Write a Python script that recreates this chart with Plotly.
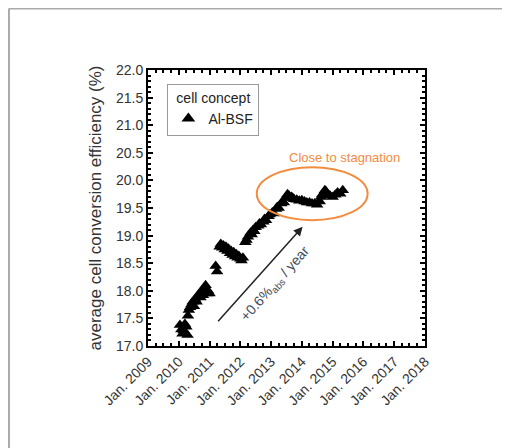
import plotly.graph_objects as go

# ---- data ----
dates = [
    "2010-01-15", "2010-02-01", "2010-02-15", "2010-03-01", "2010-03-15", "2010-04-01",
    "2010-04-15", "2010-04-20", "2010-05-01", "2010-05-15", "2010-06-01", "2010-06-15",
    "2010-07-01", "2010-07-15", "2010-08-01", "2010-08-15", "2010-09-01", "2010-09-15",
    "2010-10-01", "2010-10-15", "2010-11-01", "2010-11-15", "2010-12-01", "2010-12-15",
    "2011-01-01", "2011-03-15", "2011-04-01", "2011-05-01", "2011-05-15", "2011-06-01",
    "2011-06-15", "2011-07-01", "2011-07-15", "2011-08-01", "2011-08-15", "2011-09-01",
    "2011-09-15", "2011-10-01", "2011-10-15", "2011-11-01", "2011-11-15", "2011-12-01",
    "2011-12-15", "2012-01-01", "2012-01-15", "2012-02-01", "2012-03-01", "2012-03-15",
    "2012-04-01", "2012-05-01", "2012-05-15", "2012-06-01", "2012-06-15", "2012-07-01",
    "2012-08-01", "2012-08-15", "2012-09-01", "2012-10-01", "2012-10-15", "2012-11-01",
    "2012-12-01", "2012-12-15", "2013-01-15", "2013-02-01", "2013-03-01", "2013-03-15",
    "2013-04-01", "2013-05-01", "2013-05-15", "2013-06-01", "2013-07-01", "2013-07-15",
    "2013-08-01", "2013-09-01", "2013-09-15", "2013-10-01", "2013-11-01", "2013-12-01",
    "2014-01-01", "2014-02-01", "2014-03-01", "2014-04-01", "2014-05-01", "2014-06-01",
    "2014-07-01", "2014-08-01", "2014-08-15", "2014-09-01", "2014-10-01", "2014-10-15",
    "2014-11-01", "2014-12-01", "2015-01-01", "2015-02-01", "2015-03-01", "2015-04-01",
    "2015-05-01",
]
efficiency = [
    17.38, 17.30, 17.22, 17.28, 17.40, 17.35,
    17.20, 17.55, 17.65, 17.70, 17.75, 17.80,
    17.72, 17.85, 17.80, 17.90, 17.95, 17.88,
    18.00, 17.92, 18.02, 18.10, 17.95, 18.00,
    17.95, 18.45, 18.35, 18.80, 18.85, 18.78,
    18.82, 18.75, 18.80, 18.72, 18.76, 18.68,
    18.72, 18.65, 18.70, 18.62, 18.66, 18.60,
    18.63, 18.58, 18.55, 18.60, 18.88, 18.92,
    18.98, 19.05, 19.02, 19.10, 19.08, 19.15,
    19.18, 19.22, 19.20, 19.25, 19.30, 19.28,
    19.35, 19.38, 19.42, 19.40, 19.48, 19.52,
    19.50, 19.58, 19.62, 19.60, 19.68, 19.75,
    19.72, 19.70, 19.68, 19.66, 19.65, 19.63,
    19.64, 19.62, 19.60, 19.60, 19.58, 19.58,
    19.56, 19.62, 19.70, 19.75, 19.82, 19.80,
    19.75, 19.72, 19.70, 19.74, 19.78, 19.76,
    19.82,
]
series_name = "Al-BSF"
legend_title = "cell concept"
x_tick_vals = ["2009-01-01", "2010-01-01", "2011-01-01", "2012-01-01", "2013-01-01",
               "2014-01-01", "2015-01-01", "2016-01-01", "2017-01-01", "2018-01-01"]
x_tick_text = ["Jan. 2009", "Jan. 2010", "Jan. 2011", "Jan. 2012", "Jan. 2013",
               "Jan. 2014", "Jan. 2015", "Jan. 2016", "Jan. 2017", "Jan. 2018"]
y_title = "average cell conversion efficiency (%)"

FONT = "Arial, Liberation Sans, sans-serif"
ORANGE = "#F28C3E"

fig = go.Figure()
fig.add_trace(go.Scatter(
    x=dates, y=efficiency, mode="markers", name=series_name,
    marker=dict(symbol="triangle-up", size=11, color="black", line=dict(width=0)),
))

axis_common = dict(
    showgrid=False, zeroline=False, showline=True, linecolor="black", linewidth=2,
    mirror="allticks", ticks="inside", ticklen=5, tickwidth=1.5, tickcolor="black",
    tickfont=dict(family=FONT, size=14, color="#333333"),
)

fig.update_xaxes(
    type="date", range=["2009-01-01", "2018-01-01"],
    tickmode="array", tickvals=x_tick_vals, ticktext=x_tick_text, tickangle=-45,
    minor=dict(dtick="M3", ticks="inside", ticklen=3, tickcolor="black", showgrid=False),
    **axis_common,
)
fig.update_yaxes(
    range=[17.0, 22.0], dtick=0.5, tickformat=".1f",
    minor=dict(dtick=0.1, ticks="inside", ticklen=3, tickcolor="black", showgrid=False),
    title=dict(text=y_title, font=dict(family=FONT, size=17, color="#333333"), standoff=10),
    **axis_common,
)

fig.update_layout(
    width=510, height=448,
    margin=dict(l=140, r=93, t=62, b=110),
    paper_bgcolor="white", plot_bgcolor="white",
    font=dict(family=FONT, size=13, color="#333333"),
    showlegend=True,
    legend=dict(
        x=0.07, y=0.95, xanchor="left", yanchor="top",
        bordercolor="#999999", borderwidth=1, bgcolor="white",
        title=dict(text=legend_title, side="top center", font=dict(family=FONT, size=14, color="#222222")),
        font=dict(family=FONT, size=14, color="#222222"),
        itemsizing="constant",
    ),
    shapes=[
        dict(type="circle", xref="x", yref="y",
             x0="2012-07-15", x1="2016-02-20", y0=19.28, y1=20.24,
             line=dict(color=ORANGE, width=2)),
        dict(type="line", xref="paper", yref="paper", x0=-0.502, x1=1.4, y0=1.2228, y1=1.2228,
             line=dict(color="#AAAAAA", width=2)),
        dict(type="line", xref="paper", yref="paper", x0=-0.502, x1=-0.502, y0=-0.45, y1=1.2228,
             line=dict(color="#AAAAAA", width=2)),
    ],
    annotations=[
        dict(x="2015-05-25", y=20.41, xref="x", yref="y", text="Close to stagnation",
             showarrow=False, font=dict(family=FONT, size=13, color=ORANGE)),
        dict(x="2014-01-10", y=19.16, xref="x", yref="y",
             ax="2011-03-28", ay=17.42, axref="x", ayref="y",
             text="", showarrow=True, arrowhead=2, arrowsize=1.2, arrowwidth=1.5,
             arrowcolor="#222222"),
        dict(x="2013-02-20", y=18.12, xref="x", yref="y",
             text="+0.6%<sub>abs</sub> / year", textangle=-48, showarrow=False,
             font=dict(family=FONT, size=14, color="#3f4a5a")),
    ],
)

fig.write_html("out.html")
